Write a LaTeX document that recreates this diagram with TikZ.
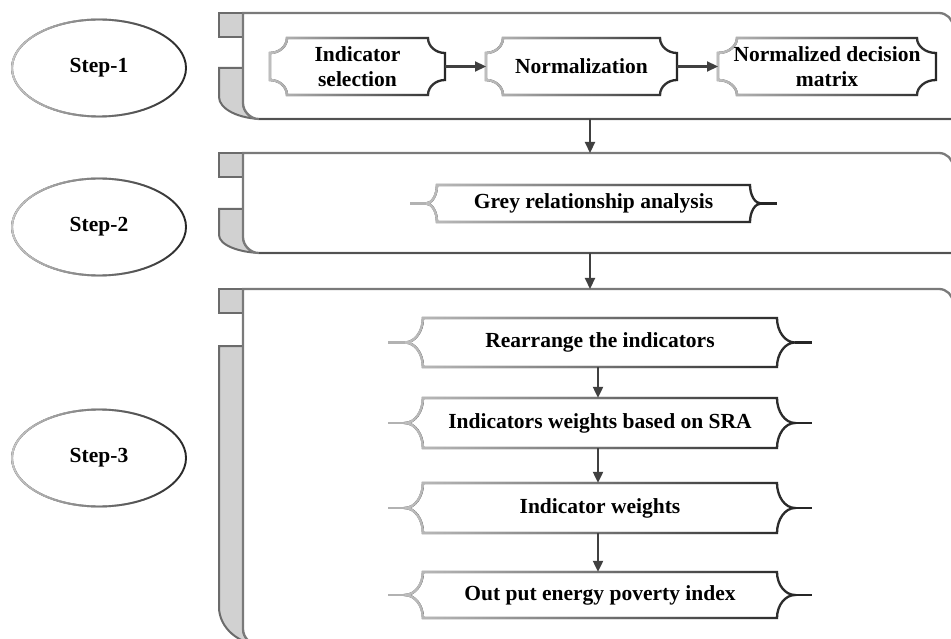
\documentclass[tikz,border=0pt]{standalone}
\usepackage{fontspec}
\setmainfont{Liberation Serif}
\usetikzlibrary{calc,arrows.meta,fadings,shapes.geometric}
\tikzfading[name=fadeR, left color=transparent!0, right color=transparent!100]
% outline of a bracket box around coordinate #1: half width #2, half height #3, depth #4, arc height #5
\newcommand\bpath[5]{%
  ($(#1)+(-#2,-#3)$) .. controls ($(#1)+(-#2,-#3+0.55*#5)$) and ($(#1)+(-#2-0.45*#4,-#3+#5)$) .. ($(#1)+(-#2-#4,-#3+#5)$)
  -- ($(#1)+(-#2-#4,#3-#5)$)
  .. controls ($(#1)+(-#2-0.45*#4,#3-#5)$) and ($(#1)+(-#2,#3-0.55*#5)$) .. ($(#1)+(-#2,#3)$)
  -- ($(#1)+(#2,#3)$)
  .. controls ($(#1)+(#2,#3-0.55*#5)$) and ($(#1)+(#2+0.45*#4,#3-#5)$) .. ($(#1)+(#2+#4,#3-#5)$)
  -- ($(#1)+(#2+#4,-#3+#5)$)
  .. controls ($(#1)+(#2+0.45*#4,-#3+#5)$) and ($(#1)+(#2,-#3+0.55*#5)$) .. ($(#1)+(#2,-#3)$)
  -- cycle}
% bracket box with shaded stroke; #6 tick length
\newcommand\bbox[6]{%
  \draw[boxdark] \bpath{#1}{#2}{#3}{#4}{#5};
  \draw[boxlight] \bpath{#1}{#2}{#3}{#4}{#5};
  \draw[boxlightline] ($(#1)+(-#2-#4,0)$) -- ++(-#6,0);
  \draw[boxdarkline] ($(#1)+(#2+#4,0)$) -- ++(#6,0);}
% panel: #1 top, #2 bottom, #3 top of lower tab, #4 outer curve height
\newcommand\panel[4]{%
  \draw[tabf] (219,#1) rectangle (243,#1+24);
  \draw[tabf] (243,#3) -- (219,#3) -- (219,#2-#4) .. controls (219,#2-0.45*#4) and (239,#2) .. (263,#2)
     -- (259,#2) .. controls (250.2,#2) and (243,#2-7.8) .. (243,#2-16) -- cycle;
  \draw[pnl] (243,#1) -- (939,#1) .. controls (946.7,#1) and (953,#1+6.3) .. (953,#1+14) -- (953,#2)
     -- (259,#2) .. controls (250.2,#2) and (243,#2-7.8) .. (243,#2-16) -- cycle;
  \draw[pnlbot] (953,#2) -- (259,#2);}
\begin{document}
\begin{tikzpicture}[x=1pt,y=-1pt,
  txt/.style={inner sep=0pt, align=center, font=\bfseries\fontsize{21.5}{25.5}\selectfont, text=black},
  stepell/.style={ellipse, draw=black!85, line width=1.9pt, inner sep=0pt, minimum width=174pt, minimum height=97pt, font=\bfseries\fontsize{21.5}{25}\selectfont},
  ellight/.style={draw=black!22, line width=2pt, path fading=fadeR},
  arr/.style={draw=black!75, line width=2.2pt, -{Triangle[length=11pt,width=10pt]}},
  pnl/.style={draw=black!52, line width=2.3pt, fill=white},
  pnlbot/.style={draw=black!68, line width=2.3pt},
  tabf/.style={draw=black!58, line width=2pt, fill=black!18},
  boxdark/.style={draw=black!85, line width=2.3pt},
  boxlight/.style={draw=black!25, line width=2.4pt, path fading=fadeR},
  boxdarkline/.style={draw=black!85, line width=2.3pt},
  boxlightline/.style={draw=black!30, line width=2.3pt},
]
\useasboundingbox (0,0) rectangle (951,639);
\begin{scope}
\clip (0,0) rectangle (951,639);
\panel{13}{119}{68}{22}
\panel{153}{253}{209}{18}
\panel{289}{645}{346}{38}
\end{scope}

% step ellipses
\node[stepell] (s1) at (99,68) {Step-1};
\draw[ellight] (s1.center) ellipse [x radius=87, y radius=48.5];
\node[stepell] (s2) at (99,227) {Step-2};
\draw[ellight] (s2.center) ellipse [x radius=87, y radius=48.5];
\node[stepell] (s3) at (99,458) {Step-3};
\draw[ellight] (s3.center) ellipse [x radius=87, y radius=48.5];

% step 1 boxes
\coordinate (ca) at (357.5,66.5);
\coordinate (cb) at (581.5,66.5);
\coordinate (cc) at (827,66.5);
\bbox{ca}{70.5}{28.5}{17}{15}{0}
\bbox{cb}{78.5}{28.5}{17}{15}{0}
\bbox{cc}{90}{28.5}{19}{15}{0}
\node[txt, minimum width=141pt, minimum height=57pt] (na) at (ca) {Indicator\\selection};
\node[txt, minimum width=157pt, minimum height=57pt] (nb) at (cb) {Normalization};
\node[txt, minimum width=180pt, minimum height=57pt] (nc) at (cc) {Normalized decision\\matrix};
\draw[arr] ($(na.center)+(87.5,0)$) -- ($(nb.center)+(-95.5,0)$);
\draw[arr] ($(nb.center)+(95.5,0)$) -- ($(nc.center)+(-109,0)$);

% step 2 box
\coordinate (cg) at (593.5,203.5);
\bbox{cg}{156.5}{18.5}{11}{18.5}{16}
\node[txt, minimum width=313pt, minimum height=37pt] (ng) at (cg) {Grey relationship analysis};

% step 3 boxes
\coordinate (c1) at (600,342.5);
\coordinate (c2) at (600,423);
\coordinate (c3) at (600,508);
\coordinate (c4) at (600,595);
\bbox{c1}{177}{24.5}{18}{24.5}{17}
\bbox{c2}{177}{25}{18}{25}{17}
\bbox{c3}{177}{25}{18}{25}{17}
\bbox{c4}{177}{23}{18}{23}{17}
\node[txt, minimum width=354pt, minimum height=49pt] (r1) at (c1) {Rearrange the indicators};
\node[txt, minimum width=354pt, minimum height=50pt] (r2) at (c2) {Indicators weights based on SRA};
\node[txt, minimum width=354pt, minimum height=50pt] (r3) at (c3) {Indicator weights};
\node[txt, minimum width=354pt, minimum height=46pt] (r4) at (c4) {Out put energy poverty index};
\draw[arr] ([xshift=-2pt]r1.south) -- ([xshift=-2pt]r2.north);
\draw[arr] ([xshift=-2pt]r2.south) -- ([xshift=-2pt]r3.north);
\draw[arr] ([xshift=-2pt]r3.south) -- ([xshift=-2pt]r4.north);

% connectors between panels
\coordinate (p1b) at (590,119);
\coordinate (p2t) at (590,153);
\coordinate (p2b) at (590,253);
\coordinate (p3t) at (590,289);
\draw[arr] (p1b) -- (p2t);
\draw[arr] (p2b) -- (p3t);
\end{tikzpicture}
\end{document}
